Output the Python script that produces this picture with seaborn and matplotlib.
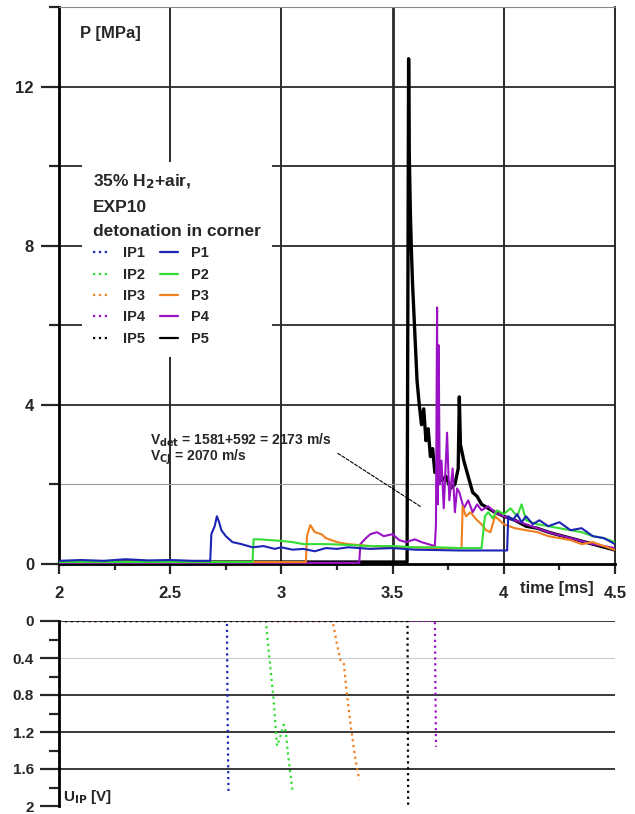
import matplotlib
matplotlib.use("Agg")
import matplotlib.pyplot as plt
from matplotlib.lines import Line2D
from matplotlib.ticker import MultipleLocator
import seaborn as sns
import pandas as pd

# ---------------- data ----------------
x_ticks = [2, 2.5, 3, 3.5, 4, 4.5]
x_tick_labels = ["2", "2.5", "3", "3.5", "4", "4.5"]
p_ticks = [0, 4, 8, 12]
p_tick_labels = ["0", "4", "8", "12"]
u_ticks = [0, 0.4, 0.8, 1.2, 1.6, 2.0]
u_tick_labels = ["0", "0.4", "0.8", "1.2", "1.6", "2"]

p1_t = [2.0, 2.1, 2.2, 2.3, 2.4, 2.5, 2.6, 2.68, 2.685, 2.70, 2.71, 2.72, 2.73, 2.75, 2.78, 2.82, 2.87,
        2.92, 2.97, 3.0, 3.05, 3.1, 3.15, 3.2, 3.25, 3.3, 3.35, 3.4, 3.5, 3.6, 3.7, 3.8, 3.9, 4.0, 4.015,
        4.02, 4.04, 4.06, 4.08, 4.1, 4.13, 4.16, 4.2, 4.25, 4.3, 4.35, 4.4, 4.45, 4.5]
p1_p = [0.08, 0.1, 0.08, 0.12, 0.09, 0.1, 0.08, 0.08, 0.75, 0.95, 1.2, 1.05, 0.85, 0.7, 0.55, 0.5, 0.42,
        0.45, 0.38, 0.42, 0.36, 0.38, 0.32, 0.4, 0.38, 0.42, 0.4, 0.38, 0.4, 0.36, 0.35, 0.34, 0.34, 0.34, 0.34,
        1.2, 1.1, 1.25, 1.05, 1.2, 1.0, 1.1, 0.95, 1.05, 0.85, 0.9, 0.7, 0.65, 0.5]

p2_t = [2.0, 2.87, 2.875, 2.9, 2.95, 3.0, 3.05, 3.1, 3.2, 3.3, 3.4, 3.5, 3.6, 3.7, 3.8, 3.9, 3.915, 3.93,
        3.95, 3.97, 4.0, 4.03, 4.06, 4.08, 4.1, 4.15, 4.2, 4.25, 4.3, 4.35, 4.4, 4.45, 4.5]
p2_p = [0.05, 0.05, 0.62, 0.62, 0.6, 0.58, 0.55, 0.5, 0.5, 0.48, 0.45, 0.45, 0.42, 0.42, 0.4, 0.4, 1.2, 1.3,
        1.15, 1.35, 1.25, 1.4, 1.2, 1.5, 1.1, 1.0, 0.95, 0.9, 0.85, 0.8, 0.7, 0.65, 0.55]

p3_t = [2.0, 3.11, 3.115, 3.13, 3.15, 3.18, 3.2, 3.25, 3.3, 3.4, 3.5, 3.6, 3.7, 3.81, 3.815, 3.83, 3.85,
        3.88, 3.9, 3.92, 3.94, 3.96, 3.98, 4.0, 4.05, 4.1, 4.15, 4.2, 4.25, 4.3, 4.35, 4.4, 4.45, 4.5]
p3_p = [0.05, 0.05, 0.7, 0.98, 0.8, 0.75, 0.65, 0.55, 0.5, 0.45, 0.42, 0.42, 0.4, 0.4, 1.45, 1.2, 1.3,
        1.1, 1.0, 0.85, 0.8, 1.2, 1.1, 1.0, 0.9, 0.85, 0.8, 0.7, 0.65, 0.6, 0.5, 0.55, 0.45, 0.35]

p4_t = [2.0, 3.35, 3.355, 3.38, 3.4, 3.43, 3.46, 3.5, 3.53, 3.56, 3.6, 3.63, 3.66, 3.69, 3.695, 3.70,
        3.703, 3.707, 3.712, 3.72, 3.73, 3.745, 3.755, 3.77, 3.78, 3.79, 3.8, 3.82, 3.84, 3.86, 3.88, 3.9,
        3.93, 3.96, 4.0, 4.05, 4.1, 4.15, 4.2, 4.3, 4.4, 4.5]
p4_p = [0.03, 0.03, 0.5, 0.65, 0.75, 0.8, 0.7, 0.75, 0.6, 0.55, 0.62, 0.55, 0.5, 0.45, 1.0, 6.45,
        1.5, 5.5, 2.0, 2.6, 1.4, 3.3, 1.6, 2.4, 1.3, 1.9, 1.8, 1.4, 1.6, 1.3, 1.5, 1.35,
        1.45, 1.3, 1.2, 1.1, 1.0, 0.9, 0.8, 0.65, 0.5, 0.4]

p5_t = [2.0, 3.565, 3.572, 3.575, 3.58, 3.585, 3.59, 3.6, 3.61, 3.62, 3.63, 3.64, 3.65, 3.66, 3.67, 3.68,
        3.69, 3.7, 3.72, 3.74, 3.76, 3.78, 3.795, 3.80, 3.805, 3.82, 3.84, 3.86, 3.88, 3.9, 3.93, 3.96, 4.0,
        4.05, 4.1, 4.15, 4.2, 4.3, 4.4, 4.5]
p5_p = [0.05, 0.05, 12.7, 10.3, 8.8, 7.8, 7.0, 5.8, 4.6, 4.0, 3.5, 3.9, 3.1, 3.4, 2.7, 2.9,
        2.3, 2.5, 2.1, 2.2, 1.9, 2.0, 2.4, 4.2, 3.0, 2.6, 2.2, 1.8, 1.7, 1.5, 1.4, 1.3, 1.2,
        1.1, 0.95, 0.9, 0.8, 0.65, 0.5, 0.35]

ip1_t = [2.0, 2.755, 2.758, 2.762]
ip1_u = [0.0, 0.0, 1.0, 1.84]
ip2_t = [2.0, 2.93, 2.95, 2.965, 2.98, 2.995, 3.01, 3.02, 3.03, 3.05]
ip2_u = [0.0, 0.0, 0.5, 0.85, 1.35, 1.25, 1.12, 1.2, 1.45, 1.83]
ip3_t = [2.0, 3.23, 3.25, 3.265, 3.28, 3.295, 3.31, 3.33, 3.35]
ip3_u = [0.0, 0.0, 0.25, 0.42, 0.45, 0.8, 1.1, 1.45, 1.72]
ip4_t = [2.0, 3.69, 3.695]
ip4_u = [0.0, 0.0, 1.36]
ip5_t = [2.0, 3.567, 3.57]
ip5_u = [0.0, 0.0, 2.0]

names = ["1", "2", "3", "4", "5"]
colors = ["#1c24b4", "#33dd33", "#f07f1e", "#9b12c4", "#000000"]

legend_title = "35% H$_\\mathbf{2}$+air,\nEXP10\ndetonation in corner"
note_line1 = "V$_{\\mathbf{det}}$ = 1581+592 = 2173 m/s"
note_line2 = "V$_{\\mathbf{CJ}}$ = 2070 m/s"

# ---------------- styling ----------------
sns.set_theme(style="white")
plt.rcParams["font.family"] = ["Liberation Sans", "DejaVu Sans"]
plt.rcParams["font.weight"] = "bold"
plt.rcParams["mathtext.default"] = "regular"

fig = plt.figure(figsize=(6.35, 8.14), dpi=100)
ax = fig.add_axes([59 / 635, 1 - 564 / 814, 556 / 635, 557 / 814])
axb = fig.add_axes([59 / 635, 1 - 806 / 814, 556 / 635, 185 / 814])

P_series = [(p1_t, p1_p), (p2_t, p2_p), (p3_t, p3_p), (p4_t, p4_p), (p5_t, p5_p)]
IP_series = [(ip1_t, ip1_u), (ip2_t, ip2_u), (ip3_t, ip3_u), (ip4_t, ip4_u), (ip5_t, ip5_u)]

# grid first (below traces)
dark = "#2a2a2a"
for xv in x_ticks[1:]:
    ax.axvline(xv, color=dark, lw=1.4 if xv != 3.5 else 2.0, zorder=1)
for yv in [4, 6, 8, 10, 12]:
    ax.axhline(yv, color=dark, lw=1.3, zorder=1)
ax.axhline(2, color="#999999", lw=0.8, zorder=1)

# P traces: draw order black, purple, orange, green, blue
for i in [4, 3, 2, 1, 0]:
    t, p = P_series[i]
    df = pd.DataFrame({"t": t, "p": p})
    sns.lineplot(data=df, x="t", y="p", ax=ax, color=colors[i], lw=1.5 if i != 4 else 2.4,
                 estimator=None, sort=False, zorder=3)

ax.set_xlim(2, 4.5)
ax.set_ylim(0, 14)
ax.set_xlabel("")
ax.set_ylabel("")
ax.set_xticks(x_ticks)
ax.set_xticklabels(x_tick_labels)
ax.set_yticks(p_ticks)
ax.set_yticklabels(p_tick_labels)
ax.xaxis.set_minor_locator(MultipleLocator(0.25))
ax.yaxis.set_minor_locator(MultipleLocator(2))
ax.tick_params(axis="y", which="major", direction="out", length=13, width=1.6, labelsize=12, pad=5, left=True)
ax.tick_params(axis="y", which="minor", direction="out", length=7, width=1.6, left=True)
ax.tick_params(axis="x", which="major", direction="out", length=7, width=1.6, labelsize=12, pad=9, bottom=True)
ax.tick_params(axis="x", which="minor", direction="out", length=4, width=1.6, bottom=True)
for lab in ax.get_xticklabels() + ax.get_yticklabels():
    lab.set_fontweight("bold")
ax.spines["left"].set_linewidth(2.0)
ax.spines["left"].set_color("black")
ax.spines["bottom"].set_linewidth(2.0)
ax.spines["bottom"].set_color("black")
ax.spines["top"].set_color("#888888")
ax.spines["top"].set_linewidth(0.8)
ax.spines["right"].set_color(dark)
ax.spines["right"].set_linewidth(1.4)

ax.text(0.038, 0.953, "P [MPa]", transform=ax.transAxes, fontsize=12, fontweight="bold",
        ha="left", va="center", zorder=6)
fig.text(520 / 635, 1 - 589 / 814, "time [ms]", fontsize=12, fontweight="bold", ha="left", va="center")

# annotation
note_x, note_y1, note_y2 = 2.41, 3.1, 2.67
ax.text(note_x, note_y1, note_line1, fontsize=10, fontweight="bold", ha="left", va="center", zorder=6)
ax.text(note_x, note_y2, note_line2, fontsize=10, fontweight="bold", ha="left", va="center", zorder=6)
arrow_from = (3.243, 2.82)
arrow_to = (3.635, 1.41)
ax.annotate("", xy=arrow_to, xytext=arrow_from,
            arrowprops=dict(arrowstyle="-", linestyle=(0, (3, 1.5)), lw=0.8, color="black"), zorder=6)

# legend
handles = [Line2D([], [], color=c, ls=":", lw=1.6) for c in colors] + \
          [Line2D([], [], color=c, ls="-", lw=1.6) for c in colors]
labels = ["IP" + n for n in names] + ["P" + n for n in names]
leg = ax.legend(handles, labels, ncol=2, loc="upper left", bbox_to_anchor=(0.041, 0.722),
                borderaxespad=0, borderpad=0.75, title=legend_title, alignment="left",
                title_fontproperties={"weight": "bold", "size": 12.5},
                prop={"weight": "bold", "size": 10.5}, handlelength=1.2, handletextpad=0.9,
                columnspacing=1.0, labelspacing=0.5, frameon=True, fancybox=False,
                facecolor="white", edgecolor="white", framealpha=1.0)
leg.get_title().set_linespacing(1.75)
leg.set_zorder(5)
leg.get_frame().set_linewidth(0)

# ---------------- bottom (IP) axes ----------------
axb.axhline(0, color=dark, lw=1.3, zorder=1)
for yv in [0.8, 1.2, 1.6]:
    axb.axhline(yv, color=dark, lw=1.3, zorder=1)
for yv in [0.4, 2.0]:
    axb.axhline(yv, color="#cccccc", lw=0.8, zorder=1)

for i in range(5):
    t, u = IP_series[i]
    df = pd.DataFrame({"t": t, "u": u})
    sns.lineplot(data=df, x="t", y="u", ax=axb, color=colors[i], lw=1.6, ls=":",
                 estimator=None, sort=False, zorder=3)

axb.set_xlim(2, 4.5)
axb.set_ylim(2.0, 0)
axb.set_xlabel("")
axb.set_ylabel("")
axb.set_xticks([])
axb.set_yticks(u_ticks)
axb.set_yticklabels(u_tick_labels)
axb.yaxis.set_minor_locator(MultipleLocator(0.2))
axb.tick_params(axis="y", which="major", direction="out", length=14, width=1.6, labelsize=11, pad=4, left=True)
axb.tick_params(axis="y", which="minor", direction="out", length=7, width=1.6, left=True)
for lab in axb.get_yticklabels():
    lab.set_fontweight("bold")
axb.spines["left"].set_linewidth(2.0)
axb.spines["left"].set_color("black")
for s in ["top", "right", "bottom"]:
    axb.spines[s].set_visible(False)
axb.text(0.008, 0.05, "U$_{\\mathbf{IP}}$ [V]", transform=axb.transAxes, fontsize=11,
         fontweight="bold", ha="left", va="center")

fig.savefig("out.png", dpi=100, facecolor="white")
